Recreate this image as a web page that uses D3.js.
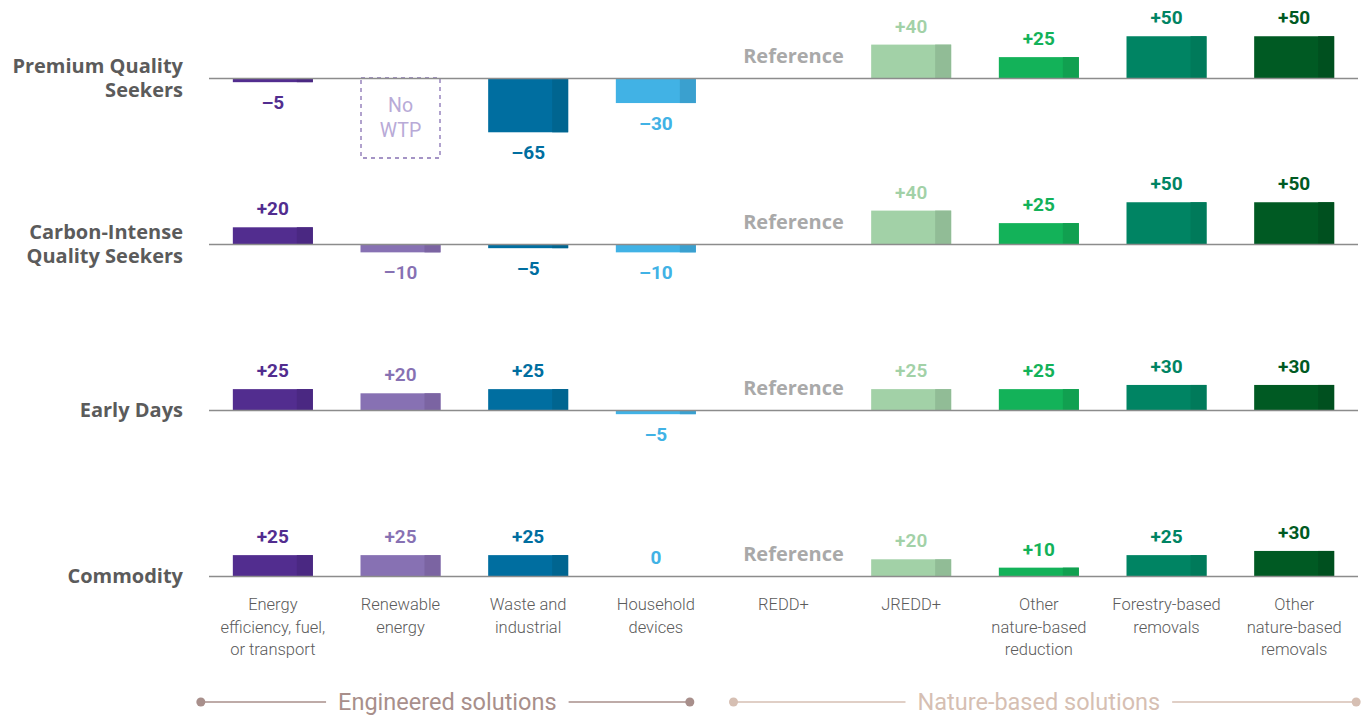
<!DOCTYPE html>
<html><head><meta charset="utf-8">
<script src="https://cdn.jsdelivr.net/npm/d3@7/dist/d3.min.js"></script>
<style>
html,body{margin:0;padding:0;background:#fff;}
svg{display:block;}
</style></head>
<body>
<svg id="c" width="1368" height="717"></svg>
<script>
const categories = ["Energy efficiency, fuel, or transport","Renewable energy","Waste and industrial","Household devices","REDD+","JREDD+","Other nature-based reduction","Forestry-based removals","Other nature-based removals"];
const categoryLines = [["Energy","efficiency, fuel,","or transport"],["Renewable","energy"],["Waste and","industrial"],["Household","devices"],["REDD+"],["JREDD+"],["Other","nature-based","reduction"],["Forestry-based","removals"],["Other","nature-based","removals"]];
const segments = ["Premium Quality Seekers","Carbon-Intense Quality Seekers","Early Days","Commodity"];
const segmentLines = [["Premium Quality","Seekers"],["Carbon-Intense","Quality Seekers"],["Early Days"],["Commodity"]];
// null = "No WTP", "ref" = Reference column
const premiumQuality = [-5, null, -65, -30, "ref", 40, 25, 50, 50];
const carbonIntense  = [20, -10, -5, -10, "ref", 40, 25, 50, 50];
const earlyDays      = [25, 20, 25, -5, "ref", 25, 25, 30, 30];
const commodity      = [25, 25, 25, 0, "ref", 20, 10, 25, 30];
const seriesValues = [premiumQuality, carbonIntense, earlyDays, commodity];
const groups = [{name:"Engineered solutions", from:0, to:3}, {name:"Nature-based solutions", from:4, to:8}];

const mainColors = ["#522d8f","#8771b3","#006ea0","#41b2e5","#999","#a2d1a7","#13b259","#008463","#005a23"];
const darkColors = ["#4a2882","#7b64a2","#006590","#3aa0cf","#999","#91bc96","#11a050","#007a5a","#00501f"];
const labelWeights = [700,600,700,700,700,600,700,700,700];

const svg = d3.select("#c");
const x = d3.scaleBand().domain(categories).range([209, 1358]).paddingInner(0.3734).paddingOuter(0.1867);
const rowY = d3.scalePoint().domain(segments).range([78, 576]);
const unit = d3.scaleLinear().domain([0, 100]).range([0, 83.5]);
const bw = x.bandwidth();
const font = "Roboto, 'Noto Sans', sans-serif";
const boldFont = "'Open Sans', 'Noto Sans', sans-serif";

segments.forEach((seg, si) => {
  const base = rowY(seg);
  const g = svg.append("g");
  // row label
  const lines = segmentLines[si];
  const t = g.append("text").attr("x", 183).attr("text-anchor","end")
    .attr("font-family", boldFont).attr("font-weight", 700).attr("font-size", 20).attr("fill", "#5b5b5b");
  lines.forEach((l, li) => {
    t.append("tspan").attr("x", 183).attr("y", base + 7 + (li - (lines.length-1)/2) * 24.5).text(l);
  });

  seriesValues[si].forEach((v, ci) => {
    const cat = categories[ci];
    const x0 = x(cat);
    const cx = x0 + bw/2;
    if (v === "ref") {
      g.append("text").attr("x", cx + 10).attr("y", base - 15).attr("text-anchor","middle")
        .attr("font-family", boldFont).attr("font-weight", 700).attr("font-size", 20).attr("fill", "#a9a9a9").text("Reference");
      return;
    }
    if (v === null) {
      g.append("rect").attr("x", x0 + 0.5).attr("y", base).attr("width", bw - 1).attr("height", bw)
        .attr("fill","none").attr("stroke", "#8771b3").attr("stroke-width", 1.3).attr("stroke-dasharray","4,4");
      g.append("text").attr("x", cx).attr("y", base + 34).attr("text-anchor","middle")
        .attr("font-family", font).attr("font-size", 19.5).attr("fill","#b8aad7").text("No");
      g.append("text").attr("x", cx).attr("y", base + 59).attr("text-anchor","middle")
        .attr("font-family", font).attr("font-size", 19.5).attr("fill","#b8aad7").text("WTP");
      return;
    }
    const h = unit(Math.abs(v));
    const y0 = v >= 0 ? base - h : base;
    g.append("rect").attr("x", x0).attr("y", y0).attr("width", bw).attr("height", h).attr("fill", mainColors[ci]);
    g.append("rect").attr("x", x0 + bw*0.8).attr("y", y0).attr("width", bw*0.2).attr("height", h).attr("fill", darkColors[ci]);
    const label = v > 0 ? "+" + v : (v < 0 ? "\u2013" + Math.abs(v) : "0");
    g.append("text").attr("x", cx).attr("y", v >= 0 ? base - h - 12 : base + h + 27).attr("text-anchor","middle")
      .attr("font-family", font).attr("font-weight", labelWeights[ci]).attr("font-size", 19)
      .attr("fill", mainColors[ci]).text(label);
  });

  // baseline
  g.append("line").attr("x1", 209).attr("x2", 1358).attr("y1", base + 0.5).attr("y2", base + 0.5)
    .attr("stroke", "#8c8c8c").attr("stroke-width", 1.6);
});

// category labels
categories.forEach((cat, ci) => {
  const cx = x(cat) + bw/2;
  const t = svg.append("text").attr("text-anchor","middle").attr("font-family", font)
    .attr("font-weight", 300).attr("font-size", 16.5).attr("fill", "#5b5b5b");
  categoryLines[ci].forEach((l, li) => {
    t.append("tspan").attr("x", cx).attr("y", 610 + li * 22.5).text(l);
  });
});

// group legends
const groupColors = [{line:"#a88f8b", text:"#a88f8b"}, {line:"#d6bfb3", text:"#d6bfb3"}];
const groupExtents = [[x(categories[0]) - 32, x(categories[3]) + bw - 6], [x(categories[4]) - 10, x(categories[8]) + bw + 22]];
groups.forEach((gr, gi) => {
  const [a, b] = groupExtents[gi];
  const yy = 702;
  const c = groupColors[gi];
  const mid = (a + b) / 2 + (gi === 0 ? 2 : -6);
  const txt = svg.append("text").attr("x", mid).attr("y", yy + 8).attr("text-anchor","middle")
    .attr("font-family", font).attr("font-size", 23.5).attr("fill", c.text).text(gr.name);
  const w = txt.node().getComputedTextLength();
  svg.append("line").attr("x1", a).attr("x2", mid - w/2 - 12).attr("y1", yy).attr("y2", yy).attr("stroke", c.line).attr("stroke-width", 1.5);
  svg.append("line").attr("x1", mid + w/2 + 12).attr("x2", b).attr("y1", yy).attr("y2", yy).attr("stroke", c.line).attr("stroke-width", 1.5);
  svg.append("circle").attr("cx", a).attr("cy", yy).attr("r", 4.5).attr("fill", c.line);
  svg.append("circle").attr("cx", b).attr("cy", yy).attr("r", 4.5).attr("fill", c.line);
});
</script>
</body></html>
